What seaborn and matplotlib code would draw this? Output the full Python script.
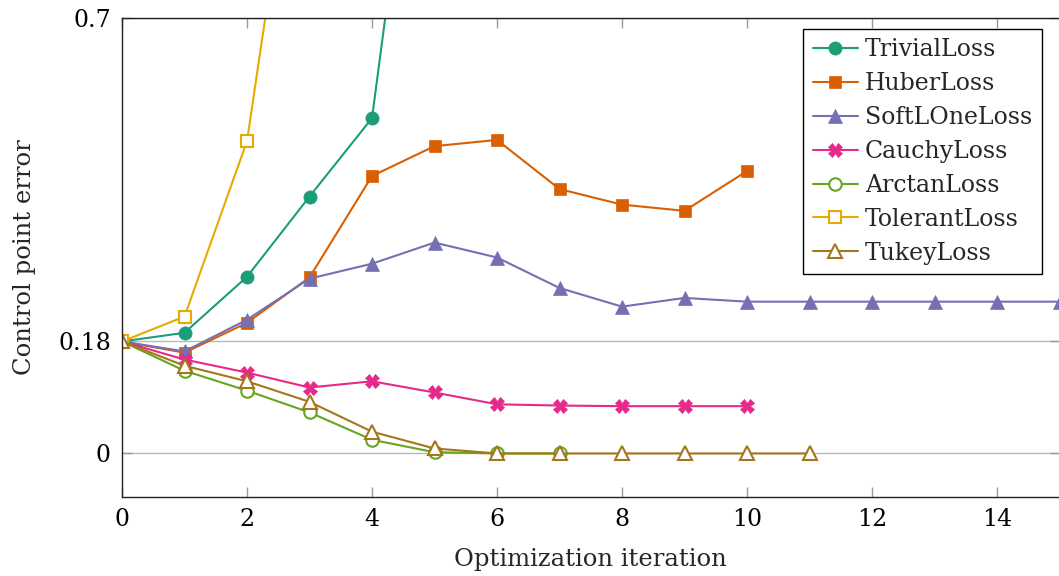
import numpy as np
import pandas as pd
import matplotlib
matplotlib.use("Agg")
import matplotlib.pyplot as plt
import seaborn as sns

# ---- data ----
series_names = ["TrivialLoss", "HuberLoss", "SoftLOneLoss", "CauchyLoss",
                "ArctanLoss", "TolerantLoss", "TukeyLoss"]

trivial_x = [0, 1, 2, 3, 4, 5]
trivial_y = [0.18, 0.194, 0.284, 0.413, 0.539, 1.30]

huber_x = [0, 1, 2, 3, 4, 5, 6, 7, 8, 9, 10]
huber_y = [0.18, 0.162, 0.210, 0.283, 0.446, 0.494, 0.504, 0.425, 0.400, 0.390, 0.454]

softl1_x = [0, 1, 2, 3, 4, 5, 6, 7, 8, 9, 10, 11, 12, 13, 14, 15]
softl1_y = [0.18, 0.164, 0.215, 0.281, 0.305, 0.339, 0.315, 0.266, 0.236, 0.250,
            0.244, 0.244, 0.244, 0.244, 0.244, 0.244]

cauchy_x = [0, 1, 2, 3, 4, 5, 6, 7, 8, 9, 10]
cauchy_y = [0.18, 0.151, 0.130, 0.106, 0.116, 0.098, 0.079, 0.077, 0.076, 0.076, 0.076]

arctan_x = [0, 1, 2, 3, 4, 5, 6, 7]
arctan_y = [0.18, 0.133, 0.101, 0.066, 0.022, 0.002, 0.0, 0.0]

tolerant_x = [0, 1, 2, 3]
tolerant_y = [0.18, 0.220, 0.502, 1.18]

tukey_x = [0, 1, 2, 3, 4, 5, 6, 7, 8, 9, 10, 11]
tukey_y = [0.18, 0.141, 0.116, 0.083, 0.035, 0.008, 0.0, 0.0, 0.0, 0.0, 0.0, 0.0]

x_ticks = [0, 2, 4, 6, 8, 10, 12, 14]
y_ticks = [0, 0.18, 0.7]
y_ticklabels = ["0", "0.18", "0.7"]

all_x = [trivial_x, huber_x, softl1_x, cauchy_x, arctan_x, tolerant_x, tukey_x]
all_y = [trivial_y, huber_y, softl1_y, cauchy_y, arctan_y, tolerant_y, tukey_y]

frames = []
for name, xs, ys in zip(series_names, all_x, all_y):
    frames.append(pd.DataFrame({"iteration": xs, "error": ys, "loss": name}))
df = pd.concat(frames, ignore_index=True)

# ---- style ----
sns.set_theme(style="white")
plt.rcParams["font.family"] = ["DejaVu Serif"]
plt.rcParams["mathtext.fontset"] = "dejavuserif"

colors = ["#1b9e77", "#d95f02", "#7570b3", "#e7298a", "#66a61e", "#e6ab02", "#a6761d"]
markers = ["o", "s", "^", "X", "o", "s", "^"]
filled = [True, True, True, True, False, False, False]
msizes = [9.5, 8, 10, 10, 9, 8, 9.5]

fig = plt.figure(figsize=(10.59, 5.76), dpi=100)
ax = fig.add_axes([122 / 1059, 1 - 497 / 576, 937.5 / 1059, 479 / 576])

for name, c, m, f, ms in zip(series_names, colors, markers, filled, msizes):
    sub = df[df["loss"] == name]
    sns.lineplot(data=sub, x="iteration", y="error", ax=ax, color=c,
                 marker=m, markersize=ms, linewidth=1.5,
                 markerfacecolor=c if f else "white",
                 markeredgecolor=c, markeredgewidth=1.5 if not f else 0.5,
                 label=name, errorbar=None, sort=False)

ax.set_xlim(0, 15)
ax.set_ylim(-0.07, 0.7)
ax.set_xticks(x_ticks)
ax.set_xticklabels([str(t) for t in x_ticks])
ax.set_yticks(y_ticks)
ax.set_yticklabels(y_ticklabels)

ax.yaxis.grid(True, color="#b8b8b8", linewidth=1.0)
ax.xaxis.grid(False)
ax.set_axisbelow(True)

for s in ax.spines.values():
    s.set_visible(True)
    s.set_color("#222222")
    s.set_linewidth(1.0)

ax.tick_params(axis="both", which="both", direction="in", length=7, width=1.0,
               color="#999999", top=True, right=True, bottom=True, left=True,
               labelsize=17, labelcolor="black", pad=8)

ax.set_xlabel("Optimization iteration", fontsize=17.5, labelpad=12)
ax.set_ylabel("Control point error", fontsize=17.5, labelpad=16)

leg = ax.legend(loc="upper right", bbox_to_anchor=(1 - 18 / 937.5, 1 - 11 / 479),
                fontsize=17, frameon=True, fancybox=False, framealpha=1,
                edgecolor="black", handlelength=1.9, labelspacing=0.46,
                borderpad=0.4, handletextpad=0.3, borderaxespad=0)
leg.get_frame().set_linewidth(1.0)

fig.savefig("out.png", dpi=100)
